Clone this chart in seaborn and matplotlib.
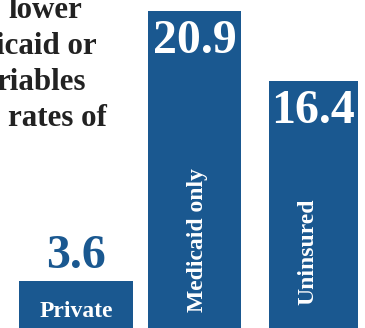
import matplotlib
matplotlib.use("Agg")
import matplotlib.pyplot as plt
import matplotlib.transforms as mtransforms
import seaborn as sns
import pandas as pd

# ---- data ----
categories = ["Private", "Medicaid only", "Uninsured"]
values = [3.6, 20.9, 16.4]
value_labels = ["3.6", "20.9", "16.4"]
heading_fragments = ["lower", "icaid or", "riables", "rates of"]

# ---- styles ----
BLUE = "#1A5890"
DARK = "#222222"
W, H = 365, 328
bar_widths = [0.96, 0.783, 0.75]
value_inside = [False, True, True]
cat_rotated = [False, True, True]
cat_dx = [0.0, 0.07, 0.0]
cat_y_px = [317, 240, 251.5]          # px from top (baseline for horizontal, centre for rotated)
heading_right_px = [82, 97, 86, 106.5]
heading_base_px = [18, 53.5, 89.5, 126]

sns.set_theme(style="white")
plt.rcParams["font.family"] = ["Liberation Serif", "DejaVu Serif"]

fig = plt.figure(figsize=(W / 100, H / 100), dpi=100)
ax = fig.add_axes([0, 0, 1, 1])
df = pd.DataFrame({"category": categories, "value": values})
sns.barplot(data=df, x="category", y="value", color=BLUE, saturation=1,
            linewidth=0, ax=ax, errorbar=None)

for p, w in zip(ax.patches, bar_widths):
    c = p.get_x() + p.get_width() / 2
    p.set_x(c - w / 2)
    p.set_width(w)

ax.set_xlim(-0.64, 2.434)
ax.set_ylim(0.607, 21.58)
ax.axis("off")

px2pt = 0.72
# value labels
for i, (v, lab, inside) in enumerate(zip(values, value_labels, value_inside)):
    off = -42 if inside else 13
    ax.annotate(lab, xy=(i, v), xytext=(0, off * px2pt), textcoords="offset points",
                ha="center", va="baseline", fontsize=34.5, fontweight="bold",
                color="white" if inside else BLUE)

# category labels
blend = mtransforms.blended_transform_factory(ax.transData, ax.transAxes)
for i, (cat, rot, dx, ypx) in enumerate(zip(categories, cat_rotated, cat_dx, cat_y_px)):
    yfrac = 1 - ypx / H
    if rot:
        ax.text(i + dx, yfrac, cat, transform=blend, rotation=90, rotation_mode="anchor",
                ha="center", va="baseline", fontsize=17, fontweight="bold", color="white")
    else:
        ax.text(i + dx, yfrac, cat, transform=blend, ha="center", va="baseline",
                fontsize=17, fontweight="bold", color="white")

# heading fragments (cut off at the left edge in the reference)
for frag, rx, by in zip(heading_fragments, heading_right_px, heading_base_px):
    fig.text(rx / W, 1 - by / H, frag, ha="right", va="baseline",
             fontsize=22.3, fontweight="bold", color=DARK)

fig.savefig("out.png", dpi=100)
